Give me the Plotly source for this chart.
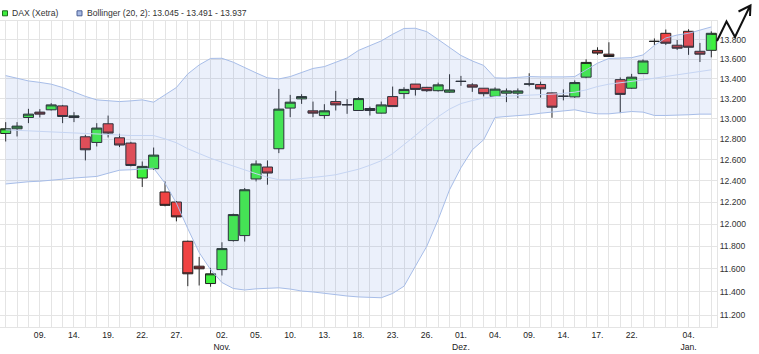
import math
import plotly.graph_objects as go

# ---------------- data ----------------
dates = [
    "2020-10-06", "2020-10-07", "2020-10-08", "2020-10-09", "2020-10-12", "2020-10-13", "2020-10-14",
    "2020-10-15", "2020-10-16", "2020-10-19", "2020-10-20", "2020-10-21", "2020-10-22", "2020-10-23",
    "2020-10-26", "2020-10-27", "2020-10-28", "2020-10-29", "2020-10-30",
    "2020-11-02", "2020-11-03", "2020-11-04", "2020-11-05", "2020-11-06", "2020-11-09", "2020-11-10",
    "2020-11-11", "2020-11-12", "2020-11-13", "2020-11-16", "2020-11-17", "2020-11-18", "2020-11-19",
    "2020-11-20", "2020-11-23", "2020-11-24", "2020-11-25", "2020-11-26", "2020-11-27", "2020-11-30",
    "2020-12-01", "2020-12-02", "2020-12-03", "2020-12-04", "2020-12-07", "2020-12-08", "2020-12-09",
    "2020-12-10", "2020-12-11", "2020-12-14", "2020-12-15", "2020-12-16", "2020-12-17", "2020-12-18",
    "2020-12-21", "2020-12-22", "2020-12-23", "2020-12-28", "2020-12-29", "2020-12-30",
    "2021-01-04", "2021-01-05", "2021-01-06",
]

open_ = [12855, 12901, 13012, 13065, 13088, 13127, 13012, 12823, 12768, 12950, 12813, 12762, 12428, 12516,
         12297, 12204, 11846, 11624, 11472, 11594, 11852, 11897, 12419, 12532, 12707, 13105, 13197, 13078,
         13031, 13170, 13137, 13081, 13101, 13055, 13220, 13250, 13346, 13313, 13279, 13264, 13376, 13338,
         13304, 13222, 13254, 13254, 13345, 13342, 13257, 13222, 13217, 13416, 13691, 13652, 13391, 13304,
         13452, 13784, 13870, 13745, 13891, 13682, 13692]
high = [12966, 12966, 13098, 13095, 13154, 13137, 13065, 12842, 12956, 13031, 12852, 12774, 12585, 12719,
        12396, 12212, 11852, 11706, 11609, 11837, 12097, 12334, 12595, 12595, 13297, 13237, 13244, 13170,
        13144, 13277, 13194, 13214, 13120, 13170, 13321, 13314, 13348, 13318, 13361, 13446, 13429, 13355,
        13307, 13313, 13302, 13302, 13456, 13371, 13261, 13292, 13383, 13600, 13724, 13776, 13413, 13450,
        13598, 13816, 13910, 13800, 13913, 13769, 13891]
low = [12777, 12826, 12956, 13012, 13081, 12956, 12966, 12595, 12729, 12816, 12723, 12538, 12344, 12506,
       12164, 12026, 11449, 11455, 11444, 11542, 11843, 11843, 12396, 12365, 12665, 13015, 13147, 13015,
       12999, 13081, 13048, 13078, 13031, 13051, 13119, 13197, 13230, 13267, 13270, 13257, 13328, 13267,
       13222, 13217, 13164, 13204, 13323, 13210, 13009, 13182, 13207, 13405, 13645, 13623, 13055, 13297,
       13450, 13748, 13748, 13696, 13645, 13571, 13619]
close = [12901, 12927, 13045, 13045, 13137, 13022, 13028, 12697, 12908, 12859, 12743, 12547, 12538, 12646,
         12173, 12067, 11557, 11601, 11557, 11780, 12088, 12318, 12561, 12475, 13095, 13164, 13220, 13055,
         13078, 13137, 13139, 13200, 13081, 13137, 13120, 13292, 13292, 13279, 13338, 13287, 13372, 13315,
         13249, 13295, 13277, 13277, 13347, 13298, 13114, 13224, 13361, 13567, 13663, 13628, 13242, 13416,
         13582, 13786, 13766, 13714, 13724, 13652, 13870]

bb_upper = [13432, 13406, 13378, 13363, 13345, 13311, 13267, 13222, 13187, 13177, 13170, 13177, 13187, 13164,
            13237, 13311, 13449, 13541, 13608, 13610, 13569, 13511, 13460, 13409, 13398, 13422, 13465, 13505,
            13524, 13567, 13613, 13691, 13741, 13790, 13860, 13921, 13923, 13887, 13805, 13717, 13639, 13582,
            13536, 13409, 13406, 13414, 13422, 13419, 13416, 13419, 13422, 13490, 13559, 13608, 13610, 13616,
            13644, 13743, 13821, 13852, 13870, 13905, 13937]
bb_mid = [12891, 12886, 12881, 12876, 12871, 12866, 12862, 12859, 12852, 12842, 12837, 12835, 12835, 12835,
          12803, 12765, 12707, 12659, 12616, 12578, 12540, 12506, 12469, 12436, 12412, 12412, 12421, 12436,
          12445, 12459, 12488, 12511, 12549, 12592, 12660, 12745, 12835, 12930, 13020, 13095, 13150, 13180,
          13205, 13220, 13224, 13229, 13235, 13239, 13244, 13252, 13264, 13287, 13321, 13345, 13358, 13371,
          13388, 13406, 13422, 13439, 13456, 13473, 13491]
bb_lower = [12372, 12384, 12393, 12398, 12405, 12417, 12428, 12436, 12443, 12473, 12502, 12506, 12511, 12521,
            12379, 12193, 11960, 11745, 11594, 11481, 11429, 11416, 11426, 11431, 11435, 11424, 11407, 11399,
            11386, 11373, 11364, 11356, 11351, 11349, 11386, 11449, 11624, 11801, 12042, 12318, 12525, 12697,
            12794, 13012, 13022, 13029, 13039, 13054, 13065, 13078, 13088, 13065, 13048, 13048, 13058, 13071,
            13065, 13032, 13032, 13032, 13039, 13045, 13045]

tick_dates = ["2020-10-09", "2020-10-14", "2020-10-19", "2020-10-22", "2020-10-27", "2020-11-02",
              "2020-11-05", "2020-11-10", "2020-11-13", "2020-11-18", "2020-11-23", "2020-11-26",
              "2020-12-01", "2020-12-04", "2020-12-09", "2020-12-14", "2020-12-17", "2020-12-22",
              "2021-01-04"]
tick_labels = ["09.", "14.", "19.", "22.", "27.", "02.<br>Nov.", "05.", "10.", "13.", "18.", "23.",
               "26.", "01.<br>Dez.", "04.", "09.", "14.", "17.", "22.", "04.<br>Jan."]

y_ticks = [11200, 11400, 11600, 11800, 12000, 12200, 12400, 12600, 12800, 13000, 13200, 13400,
           13600, 13800, 14000]
y_range = [11100, 14000]

# ---------------- figure ----------------
W, H = 759, 354
ML, MR, MT, MB = 0, 42, 21, 27
PW, PH = W - ML - MR, H - MT - MB


def px(x):
    return (x - ML) / PW


def py(y):
    return (H - MB - y) / PH


xs = list(range(len(dates)))
FONT = "Liberation Sans, Arial, sans-serif"
band_line = "#a7bde8"

fig = go.Figure()
fig.add_trace(go.Scatter(x=xs, y=bb_upper, mode="lines", line=dict(color=band_line, width=1),
                         hoverinfo="skip", showlegend=False))
fig.add_trace(go.Scatter(x=xs, y=bb_lower, mode="lines", line=dict(color=band_line, width=1),
                         fill="tonexty", fillcolor="rgba(110,150,230,0.14)",
                         hoverinfo="skip", showlegend=False))
fig.add_trace(go.Scatter(x=xs, y=bb_mid, mode="lines", line=dict(color="#c6d5f3", width=1),
                         hoverinfo="skip", showlegend=False))
# soft white halo behind the candles
fig.add_trace(go.Candlestick(
    x=xs, open=open_, high=high, low=low, close=close,
    increasing=dict(line=dict(color="rgba(255,255,255,0.85)", width=2.2), fillcolor="white"),
    decreasing=dict(line=dict(color="rgba(255,255,255,0.85)", width=2.2), fillcolor="white"),
    whiskerwidth=0, hoverinfo="skip", showlegend=False))
fig.add_trace(go.Candlestick(
    x=xs, open=open_, high=high, low=low, close=close,
    increasing=dict(line=dict(color="#222222", width=1), fillcolor="#3ef03e"),
    decreasing=dict(line=dict(color="#222222", width=1), fillcolor="#f04343"),
    whiskerwidth=0, hoverinfo="skip", showlegend=False))

tickvals_x = [dates.index(d) for d in tick_dates]
ytext = [("" if v == 14000 else f"{v:,}".replace(",", ".")) for v in y_ticks]

grid = "#e4e4e4"
fig.update_layout(
    width=W, height=H, margin=dict(l=ML, r=MR, t=MT, b=MB, pad=0),
    paper_bgcolor="white", plot_bgcolor="white",
    font=dict(family=FONT, size=8.6, color="#333333"),
    showlegend=False, boxgap=0.12, boxgroupgap=0,
    xaxis=dict(range=[-0.5, len(dates) - 0.5], tickmode="array", tickvals=tickvals_x,
               ticktext=tick_labels, showgrid=True, gridcolor=grid, gridwidth=1,
               minor=dict(tickmode="linear", tick0=0, dtick=1, showgrid=True, gridcolor=grid, gridwidth=1),
               zeroline=False, showline=True, linecolor=grid, mirror=True, ticks="",
               tickfont=dict(size=8.6, color="#222222"), rangeslider=dict(visible=False),
               fixedrange=True),
    yaxis=dict(type="log", range=[math.log10(y_range[0]), math.log10(y_range[1])], side="right",
               tickmode="array", tickvals=y_ticks, ticktext=ytext, showgrid=True, gridcolor=grid,
               gridwidth=1, zeroline=False, showline=True, linecolor=grid, mirror=True, ticks="",
               tickfont=dict(size=8.6, color="#333333"), fixedrange=True),
)

# legend (drawn as shapes + text)
bb_text = "Bollinger (20, 2): {} - {} - {}".format(
    f"{bb_lower[-1] / 1000:.3f}", f"{bb_mid[-1] / 1000:.3f}", f"{bb_upper[-1] / 1000:.3f}")
legend_items = [("DAX (Xetra)", "#3ef03e", "#1e6e1e", 2.5, 10.5),
                (bb_text, "#a9bbe4", "#4a5f94", 77, 85.5)]
for text, fillc, linec, sx, tx in legend_items:
    fig.add_shape(type="rect", xref="paper", yref="paper", x0=px(sx), x1=px(sx + 5),
                  y0=py(15.8), y1=py(10.8), fillcolor=fillc, line=dict(color=linec, width=1),
                  layer="above")
    fig.add_annotation(text=text, xref="paper", yref="paper", x=px(tx), y=py(13.3),
                       xanchor="left", yanchor="middle", showarrow=False,
                       font=dict(family=FONT, size=8.6, color="#333333"), borderpad=0)

# logo (zig-zag arrow, top right)
pts = [(717, 41), (726.5, 21.5), (735, 37), (749.5, 7)]
path = "M " + " L ".join(f"{px(a):.5f},{py(b):.5f}" for a, b in pts)
head = [(738.5, 11.5), (750.5, 5.5), (750, 16)]
path += " M " + " L ".join(f"{px(a):.5f},{py(b):.5f}" for a, b in head)
fig.add_shape(type="path", xref="paper", yref="paper", path=path,
              line=dict(color="#111111", width=2), layer="above")

fig.write_html("out.html")
